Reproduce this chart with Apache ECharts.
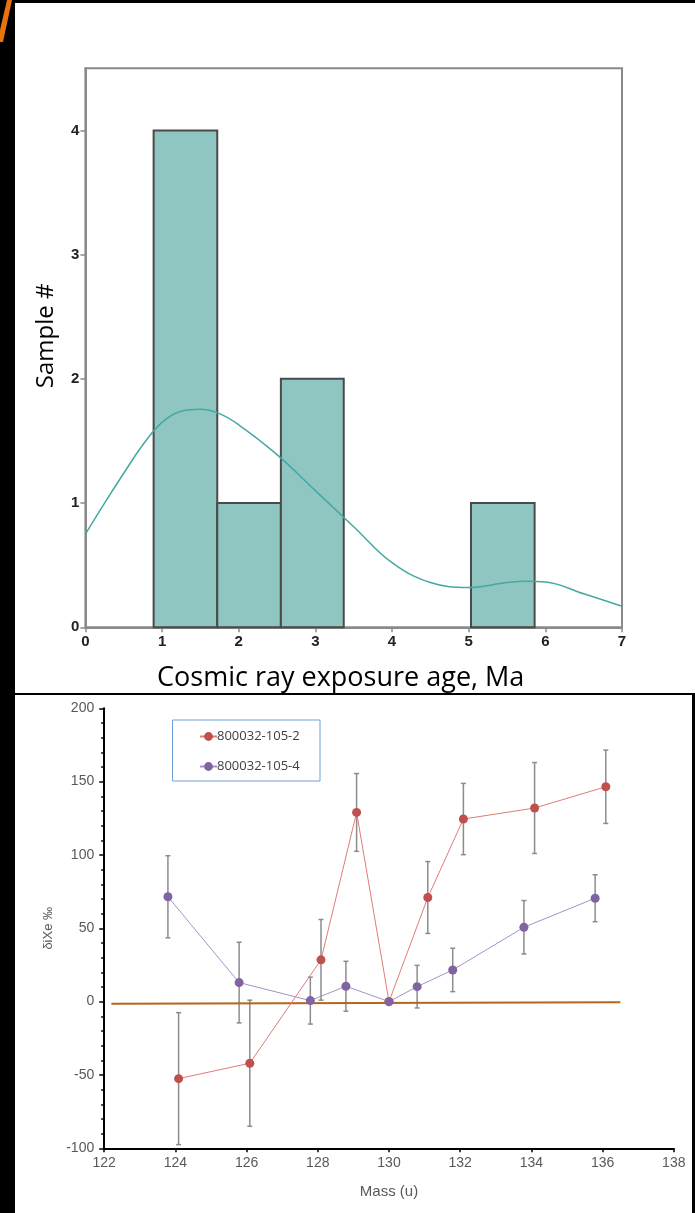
<!DOCTYPE html>
<html>
<head>
<meta charset="utf-8">
<script src="https://cdn.jsdelivr.net/npm/echarts@6/dist/echarts.min.js"></script>
<style>
    html, body { margin: 0; padding: 0; background: #000; }
    .panel { position: absolute; background: #fff; }
    #chart { position: absolute; left: 0; top: 0; width: 695px; height: 1213px; }
</style>
</head>
<body>
<div class="panel" style="left:15px;top:3px;width:680px;height:690px;"></div>
<div class="panel" style="left:15px;top:695px;width:677px;height:518px;"></div>
<div id="chart"></div>
<script>
    // histogram of exposure ages
    var binStart = [0.89, 1.72, 2.55, 3.37, 4.2, 5.03];
    var binEnd = [1.72, 2.55, 3.37, 4.2, 5.03, 5.86];
    var binCount = [4, 1, 2, 0, 0, 1];
    // density curve
    var curveX = [0, 0.25, 0.5, 0.75, 1, 1.25, 1.5, 1.75, 2, 2.5, 3, 3.5, 4, 4.5, 5, 5.5, 5.75, 6, 6.5, 7];
    var curveY = [0.75, 1.0, 1.24, 1.47, 1.65, 1.74, 1.755, 1.72, 1.63, 1.39, 1.1, 0.81, 0.52, 0.36, 0.32, 0.36, 0.37, 0.365, 0.27, 0.17];
    var histXTicks = [0, 1, 2, 3, 4, 5, 6, 7];
    var histYTicks = [0, 1, 2, 3, 4];

    // xenon isotopes
    var massRed = [124.09, 126.09, 128.09, 129.09, 130, 131.09, 132.09, 134.09, 136.09];
    var deltaRed = [-52.5, -42, 28.5, 129, 0, 71, 124.5, 132, 146.5];
    var errRed = [45, 43, 27.5, 26.5, 0, 24.5, 24.3, 31, 25];
    var massPurple = [123.79, 125.79, 127.79, 128.79, 130, 130.79, 131.79, 133.79, 135.79];
    var deltaPurple = [71.5, 13, 0.7, 10.5, 0, 10.2, 21.6, 50.7, 70.5];
    var errPurple = [28, 27.5, 16, 17, 0, 14.5, 14.8, 18.2, 16];
    var zeroX = [122.2, 136.5];
    var zeroY = [-1.5, -0.5];

    var myChart = echarts.init(document.getElementById('chart'));

    function pairs(xs, ys) {
        return xs.map(function (x, i) { return [x, ys[i]]; });
    }

    function errorBars(color) {
        return function (params, api) {
            var e = api.value(2);
            if (!e) return;
            var top = api.coord([api.value(0), api.value(1) + e]);
            var bot = api.coord([api.value(0), api.value(1) - e]);
            var st = { stroke: color, lineWidth: 1.5 };
            return {
                type: 'group',
                children: [
                    { type: 'line', shape: { x1: top[0], y1: top[1], x2: bot[0], y2: bot[1] }, style: st },
                    { type: 'line', shape: { x1: top[0] - 2.5, y1: top[1], x2: top[0] + 2.5, y2: top[1] }, style: st },
                    { type: 'line', shape: { x1: bot[0] - 2.5, y1: bot[1], x2: bot[0] + 2.5, y2: bot[1] }, style: st }
                ]
            };
        };
    }

    var option = {
        backgroundColor: 'transparent',
        animation: false,
        graphic: [
            { type: 'polygon', shape: { points: [[7, 0], [12, 0], [3, 42], [0, 42], [0, 30]] }, style: { fill: '#e8730c' } },
            { type: 'rect', shape: { x: 172.5, y: 720, width: 147.5, height: 61 }, style: { fill: 'none', stroke: '#6f9fd8', lineWidth: 1 } }
        ],
        legend: {
            data: ['800032-105-2', '800032-105-4'],
            orient: 'vertical',
            left: 194,
            top: 725,
            itemWidth: 17,
            itemHeight: 11,
            itemGap: 17,
            textStyle: { color: '#404040', fontSize: 13, fontFamily: 'Open Sans', padding: [0, 0, 0, -5] }
        },
        grid: [
            { left: 85.4, top: 68.3, width: 536.6, height: 559, show: true, borderColor: '#8a8a8a', borderWidth: 2, backgroundColor: 'transparent' },
            { left: 104.2, top: 708.3, width: 569.6, height: 440 }
        ],
        xAxis: [
            {
                gridIndex: 0, type: 'value', min: 0, max: 7, interval: 1,
                name: 'Cosmic ray exposure age, Ma', nameLocation: 'middle', nameGap: 38,
                nameTextStyle: { fontSize: 27, color: '#000', fontFamily: 'Open Sans', padding: [0, 26, 0, 0] },
                axisLine: { onZero: false, lineStyle: { color: '#8a8a8a', width: 2 } },
                axisTick: { length: 5, lineStyle: { color: '#8a8a8a', width: 1.5 }, customValues: histXTicks },
                axisLabel: { color: '#222', fontSize: 15, fontWeight: 'bold', fontFamily: 'Liberation Sans', margin: 7, customValues: histXTicks },
                splitLine: { show: false }
            },
            {
                gridIndex: 1, type: 'value', min: 122, max: 138, interval: 2,
                name: 'Mass (u)', nameLocation: 'middle', nameGap: 36,
                nameTextStyle: { fontSize: 15, color: '#595959', fontFamily: 'Liberation Sans' },
                axisLine: { onZero: false, lineStyle: { color: '#000', width: 2 } },
                axisTick: { length: 4, lineStyle: { color: '#000', width: 1.5 } },
                axisLabel: { color: '#595959', fontSize: 14, fontFamily: 'Liberation Sans', margin: 8 },
                splitLine: { show: false }
            }
        ],
        yAxis: [
            {
                gridIndex: 0, type: 'value', min: 0, max: 4.5, interval: 1,
                name: 'Sample #', nameLocation: 'middle', nameGap: 27,
                nameTextStyle: { fontSize: 24, color: '#000', fontFamily: 'Open Sans', padding: [0, 0, 0, 24] },
                axisLine: { onZero: false, lineStyle: { color: '#8a8a8a', width: 2 } },
                axisTick: { length: 5, lineStyle: { color: '#8a8a8a', width: 1.5 }, customValues: histYTicks },
                axisLabel: { color: '#222', fontSize: 15, fontWeight: 'bold', fontFamily: 'Liberation Sans', margin: 6, customValues: histYTicks },
                splitLine: { show: false }
            },
            {
                gridIndex: 1, type: 'value', min: -100, max: 200, interval: 50,
                name: 'δiXe ‰', nameLocation: 'middle', nameGap: 40,
                nameTextStyle: { fontSize: 13, color: '#595959', fontFamily: 'Liberation Sans' },
                axisLine: { onZero: false, lineStyle: { color: '#000', width: 2 } },
                axisTick: { length: 5, lineStyle: { color: '#000', width: 1.5 } },
                minorTick: { show: true, splitNumber: 5, length: 3, lineStyle: { color: '#000', width: 1.5 } },
                axisLabel: { color: '#595959', fontSize: 14, fontFamily: 'Liberation Sans', margin: 10 },
                splitLine: { show: false }
            }
        ],
        series: [
            {
                type: 'custom',
                xAxisIndex: 0, yAxisIndex: 0,
                data: binStart.map(function (s, i) { return [s, binEnd[i], binCount[i]]; }),
                encode: { x: [0, 1], y: 2 },
                renderItem: function (params, api) {
                    var c = api.value(2);
                    if (!c) return;
                    var p0 = api.coord([api.value(0), c]);
                    var p1 = api.coord([api.value(1), 0]);
                    return {
                        type: 'rect',
                        shape: { x: p0[0], y: p0[1], width: p1[0] - p0[0], height: p1[1] - p0[1] },
                        style: { fill: '#8fc6c2', stroke: '#4a4a4a', lineWidth: 2 }
                    };
                }
            },
            {
                type: 'line',
                xAxisIndex: 0, yAxisIndex: 0,
                data: pairs(curveX, curveY),
                smooth: 0.4,
                showSymbol: false,
                lineStyle: { color: '#45a8a3', width: 1.5 },
                z: 5
            },
            {
                type: 'line',
                xAxisIndex: 1, yAxisIndex: 1,
                data: pairs(zeroX, zeroY),
                showSymbol: false,
                lineStyle: { color: '#b5651d', width: 2 }
            },
            {
                type: 'custom',
                xAxisIndex: 1, yAxisIndex: 1,
                data: massRed.map(function (m, i) { return [m, deltaRed[i], errRed[i]]; }),
                renderItem: errorBars('#8c8c8c'),
                z: 3
            },
            {
                type: 'custom',
                xAxisIndex: 1, yAxisIndex: 1,
                data: massPurple.map(function (m, i) { return [m, deltaPurple[i], errPurple[i]]; }),
                renderItem: errorBars('#8c8c8c'),
                z: 3
            },
            {
                name: '800032-105-2',
                type: 'line',
                xAxisIndex: 1, yAxisIndex: 1,
                data: pairs(massRed, deltaRed),
                symbol: 'circle', symbolSize: 9,
                itemStyle: { color: '#c0504d' },
                lineStyle: { color: '#e07b77', width: 1 },
                z: 4
            },
            {
                name: '800032-105-4',
                type: 'line',
                xAxisIndex: 1, yAxisIndex: 1,
                data: pairs(massPurple, deltaPurple),
                symbol: 'circle', symbolSize: 9,
                itemStyle: { color: '#8064a2' },
                lineStyle: { color: '#a592c8', width: 1 },
                z: 4
            }
        ]
    };
    myChart.setOption(option);
</script>
</body>
</html>
